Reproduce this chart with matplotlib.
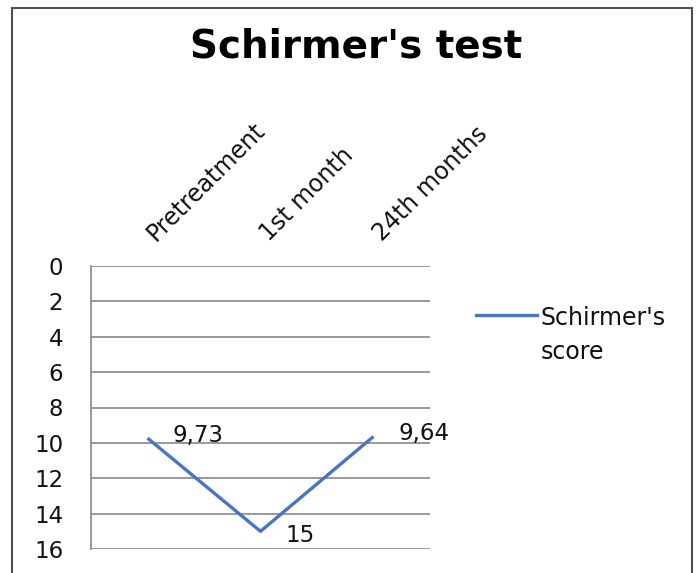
import matplotlib.pyplot as plt
from matplotlib.patches import Rectangle

categories = ["Pretreatment", "1st month", "24th months"]
scores = [9.73, 15, 9.64]
value_labels = ["9,73", "15", "9,64"]
series_name = "Schirmer's\nscore"

plt.rcParams['font.family'] = ['DejaVu Sans']

fig = plt.figure(figsize=(6.98, 5.73), dpi=100)
W, H = 698, 573

# outer frame
fig.patches.append(Rectangle((12 / W, -0.05), 680 / W, 1.05 - 8 / H,
                             transform=fig.transFigure, fill=False,
                             edgecolor='#505050', lw=1.5))

ax = fig.add_axes([91 / W, 1 - 549 / H, 339 / W, 283 / H])
x = range(len(categories))
ax.plot(x, scores, color='#4a73c4', lw=2.4, solid_capstyle='butt')
ax.set_xlim(-0.5, len(categories) - 0.5)
ax.set_ylim(16, 0)
ax.set_yticks(range(0, 17, 2))
ax.grid(axis='y', color='#888888', lw=1.2)
ax.set_axisbelow(True)
for s in ['top', 'right', 'bottom']:
    ax.spines[s].set_visible(False)
ax.spines['left'].set_color('#888888')
ax.spines['left'].set_linewidth(1.2)
ax.tick_params(axis='y', length=0, pad=20, labelsize=16.5, labelcolor='#111111')
ax.set_xticks([])

# category labels above the plot, rotated
for i, c in enumerate(categories):
    ax.annotate(c, xy=(i, 0), xycoords='data', xytext=(6, 17),
                textcoords='offset points', rotation=45, ha='left',
                va='baseline', fontsize=17, rotation_mode='anchor',
                color='#111111')

# data labels
offsets = [(18, 2), (18, -3), (18, 2)]
for i, (v, lab) in enumerate(zip(scores, value_labels)):
    ax.annotate(lab, xy=(i, v), xytext=offsets[i], textcoords='offset points',
                ha='left', va='center', fontsize=16.5, color='#111111')

fig.text(356 / W, 1 - 47 / H, "Schirmer's test", ha='center', va='center',
         fontsize=28, fontweight='bold')

# legend
fig.lines.append(plt.Line2D([476 / W, 537 / W], [1 - 315 / H, 1 - 315 / H],
                            transform=fig.transFigure, color='#4a73c4', lw=2.4))
fig.text(541 / W, 1 - 335 / H, series_name, ha='left', va='center',
         fontsize=17, linespacing=1.55, color='#111111')

fig.savefig('out.png', dpi=100)
